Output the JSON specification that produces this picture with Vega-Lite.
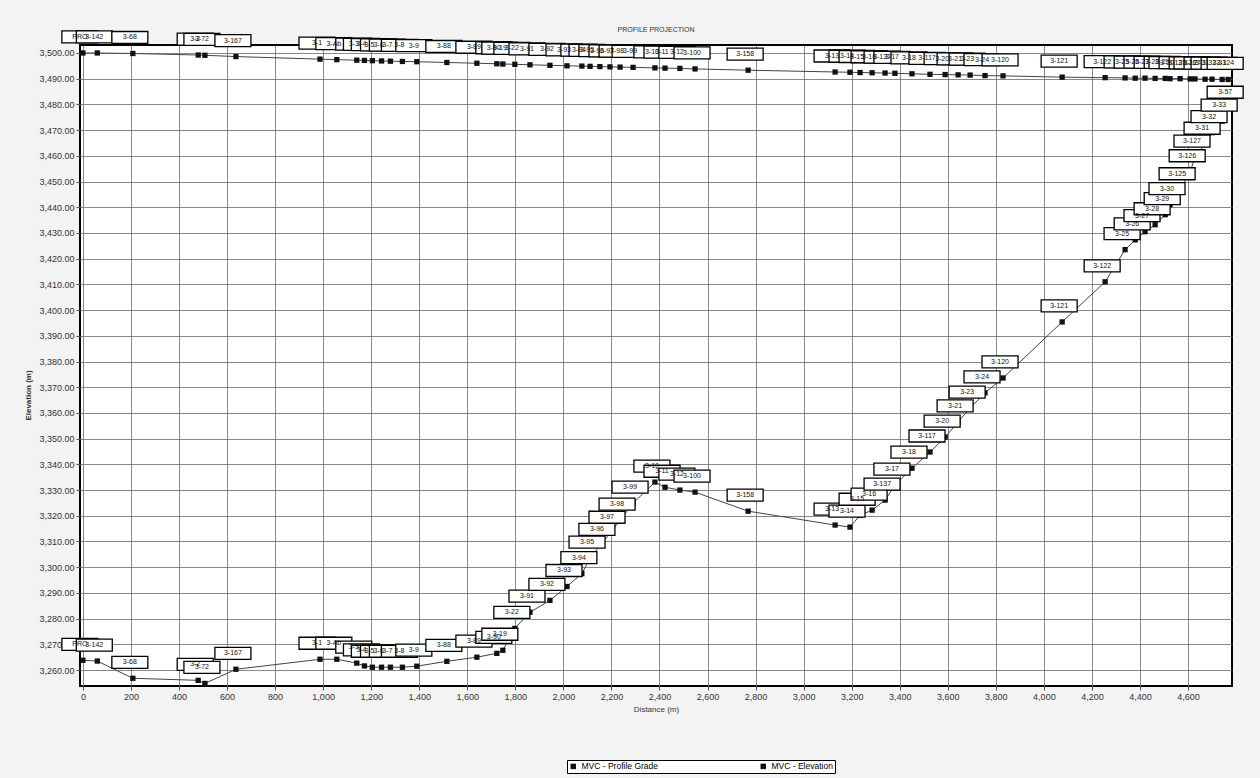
{
  "$schema": "https://vega.github.io/schema/vega-lite/v6.json",
  "autosize": {"type": "none"},
  "width": 1152,
  "height": 641,
  "padding": {"left": 80, "top": 45, "right": 28, "bottom": 92},
  "background": "#f3f3f3",
  "title": {"text": "PROFILE PROJECTION", "fontSize": 7, "font": "Liberation Sans", "color": "#333", "fontWeight": "normal", "offset": 10, "anchor": "middle", "baseline": "bottom", "dy": 22},
  "config": {
    "view": {"fill": "#ffffff", "stroke": "#000", "strokeWidth": 2},
    "axis": {"labelFont": "Liberation Sans", "titleFont": "Liberation Sans", "labelColor": "#333", "titleColor": "#333", "gridColor": "#6a6a6a", "gridWidth": 0.8, "domain": false, "tickColor": "#555", "tickSize": 4}
  },
  "datasets": {
    "pts": [
      {"series": "MVC - Profile Grade", "d": 0, "e": 3263.8, "label": "PRO"},
      {"series": "MVC - Profile Grade", "d": 60, "e": 3263.5, "label": "3-142"},
      {"series": "MVC - Profile Grade", "d": 208, "e": 3256.8, "label": "3-68"},
      {"series": "MVC - Profile Grade", "d": 480, "e": 3256.0, "label": "3-2"},
      {"series": "MVC - Profile Grade", "d": 508, "e": 3254.8, "label": "3-72"},
      {"series": "MVC - Profile Grade", "d": 637, "e": 3260.3, "label": "3-167"},
      {"series": "MVC - Profile Grade", "d": 987, "e": 3264.2, "label": "3-1"},
      {"series": "MVC - Profile Grade", "d": 1057, "e": 3264.2, "label": "3-Ab"},
      {"series": "MVC - Profile Grade", "d": 1140, "e": 3262.7, "label": "3-3"},
      {"series": "MVC - Profile Grade", "d": 1172, "e": 3261.6, "label": "3-4"},
      {"series": "MVC - Profile Grade", "d": 1205, "e": 3261.1, "label": "3-5"},
      {"series": "MVC - Profile Grade", "d": 1243, "e": 3261.1, "label": "3-6"},
      {"series": "MVC - Profile Grade", "d": 1280, "e": 3261.1, "label": "3-7"},
      {"series": "MVC - Profile Grade", "d": 1330, "e": 3261.1, "label": "3-8"},
      {"series": "MVC - Profile Grade", "d": 1390, "e": 3261.5, "label": "3-9"},
      {"series": "MVC - Profile Grade", "d": 1515, "e": 3263.4, "label": "3-88"},
      {"series": "MVC - Profile Grade", "d": 1640, "e": 3265.0, "label": "3-89"},
      {"series": "MVC - Profile Grade", "d": 1723, "e": 3266.5, "label": "3-90"},
      {"series": "MVC - Profile Grade", "d": 1748, "e": 3267.7, "label": "3-19"},
      {"series": "MVC - Profile Grade", "d": 1798, "e": 3276.2, "label": "3-22"},
      {"series": "MVC - Profile Grade", "d": 1861, "e": 3282.5, "label": "3-91"},
      {"series": "MVC - Profile Grade", "d": 1944, "e": 3287.1, "label": "3-92"},
      {"series": "MVC - Profile Grade", "d": 2015, "e": 3292.5, "label": "3-93"},
      {"series": "MVC - Profile Grade", "d": 2077, "e": 3297.5, "label": "3-94"},
      {"series": "MVC - Profile Grade", "d": 2111, "e": 3303.5, "label": "3-95"},
      {"series": "MVC - Profile Grade", "d": 2152, "e": 3308.5, "label": "3-96"},
      {"series": "MVC - Profile Grade", "d": 2194, "e": 3313.2, "label": "3-97"},
      {"series": "MVC - Profile Grade", "d": 2236, "e": 3318.3, "label": "3-98"},
      {"series": "MVC - Profile Grade", "d": 2290, "e": 3324.9, "label": "3-99"},
      {"series": "MVC - Profile Grade", "d": 2381, "e": 3333.1, "label": "3-10"},
      {"series": "MVC - Profile Grade", "d": 2423, "e": 3331.1, "label": "3-11"},
      {"series": "MVC - Profile Grade", "d": 2485, "e": 3330.0, "label": "3-12"},
      {"series": "MVC - Profile Grade", "d": 2548, "e": 3329.2, "label": "3-100"},
      {"series": "MVC - Profile Grade", "d": 2769, "e": 3321.8, "label": "3-158"},
      {"series": "MVC - Profile Grade", "d": 3131, "e": 3316.4, "label": "3-13"},
      {"series": "MVC - Profile Grade", "d": 3193, "e": 3315.6, "label": "3-14"},
      {"series": "MVC - Profile Grade", "d": 3235, "e": 3320.2, "label": "3-15"},
      {"series": "MVC - Profile Grade", "d": 3285, "e": 3322.2, "label": "3-16"},
      {"series": "MVC - Profile Grade", "d": 3339, "e": 3326.1, "label": "3-137"},
      {"series": "MVC - Profile Grade", "d": 3380, "e": 3331.9, "label": "3-17"},
      {"series": "MVC - Profile Grade", "d": 3451, "e": 3338.5, "label": "3-18"},
      {"series": "MVC - Profile Grade", "d": 3526, "e": 3344.8, "label": "3-117"},
      {"series": "MVC - Profile Grade", "d": 3589, "e": 3350.6, "label": "3-20"},
      {"series": "MVC - Profile Grade", "d": 3643, "e": 3356.5, "label": "3-21"},
      {"series": "MVC - Profile Grade", "d": 3693, "e": 3361.9, "label": "3-23"},
      {"series": "MVC - Profile Grade", "d": 3755, "e": 3367.8, "label": "3-24"},
      {"series": "MVC - Profile Grade", "d": 3830, "e": 3373.6, "label": "3-120"},
      {"series": "MVC - Profile Grade", "d": 4076, "e": 3395.4, "label": "3-121"},
      {"series": "MVC - Profile Grade", "d": 4255, "e": 3411.0, "label": "3-122"},
      {"series": "MVC - Profile Grade", "d": 4338, "e": 3423.5, "label": "3-25"},
      {"series": "MVC - Profile Grade", "d": 4380, "e": 3427.3, "label": "3-26"},
      {"series": "MVC - Profile Grade", "d": 4421, "e": 3430.5, "label": "3-27"},
      {"series": "MVC - Profile Grade", "d": 4463, "e": 3433.2, "label": "3-28"},
      {"series": "MVC - Profile Grade", "d": 4505, "e": 3437.1, "label": "3-29"},
      {"series": "MVC - Profile Grade", "d": 4525, "e": 3441.0, "label": "3-30"},
      {"series": "MVC - Profile Grade", "d": 4567, "e": 3446.8, "label": "3-125"},
      {"series": "MVC - Profile Grade", "d": 4609, "e": 3453.8, "label": "3-126"},
      {"series": "MVC - Profile Grade", "d": 4629, "e": 3459.5, "label": "3-127"},
      {"series": "MVC - Profile Grade", "d": 4671, "e": 3464.5, "label": "3-31"},
      {"series": "MVC - Profile Grade", "d": 4700, "e": 3469.0, "label": "3-32"},
      {"series": "MVC - Profile Grade", "d": 4742, "e": 3473.5, "label": "3-33"},
      {"series": "MVC - Profile Grade", "d": 4767, "e": 3478.5, "label": "3-57"},
      {"series": "MVC - Elevation", "d": 0, "e": 3500.0, "label": "PRO"},
      {"series": "MVC - Elevation", "d": 60, "e": 3500.0, "label": "3-142"},
      {"series": "MVC - Elevation", "d": 208, "e": 3499.8, "label": "3-68"},
      {"series": "MVC - Elevation", "d": 480, "e": 3499.2, "label": "3-2"},
      {"series": "MVC - Elevation", "d": 508, "e": 3499.1, "label": "3-72"},
      {"series": "MVC - Elevation", "d": 637, "e": 3498.6, "label": "3-167"},
      {"series": "MVC - Elevation", "d": 987, "e": 3497.6, "label": "3-1"},
      {"series": "MVC - Elevation", "d": 1057, "e": 3497.4, "label": "3-Ab"},
      {"series": "MVC - Elevation", "d": 1140, "e": 3497.2, "label": "3-3"},
      {"series": "MVC - Elevation", "d": 1172, "e": 3497.1, "label": "3-4"},
      {"series": "MVC - Elevation", "d": 1205, "e": 3497.0, "label": "3-5"},
      {"series": "MVC - Elevation", "d": 1243, "e": 3496.9, "label": "3-6"},
      {"series": "MVC - Elevation", "d": 1280, "e": 3496.8, "label": "3-7"},
      {"series": "MVC - Elevation", "d": 1330, "e": 3496.7, "label": "3-8"},
      {"series": "MVC - Elevation", "d": 1390, "e": 3496.6, "label": "3-9"},
      {"series": "MVC - Elevation", "d": 1515, "e": 3496.3, "label": "3-88"},
      {"series": "MVC - Elevation", "d": 1640, "e": 3496.0, "label": "3-89"},
      {"series": "MVC - Elevation", "d": 1723, "e": 3495.8, "label": "3-90"},
      {"series": "MVC - Elevation", "d": 1748, "e": 3495.7, "label": "3-19"},
      {"series": "MVC - Elevation", "d": 1798, "e": 3495.6, "label": "3-22"},
      {"series": "MVC - Elevation", "d": 1861, "e": 3495.4, "label": "3-91"},
      {"series": "MVC - Elevation", "d": 1944, "e": 3495.2, "label": "3-92"},
      {"series": "MVC - Elevation", "d": 2015, "e": 3495.0, "label": "3-93"},
      {"series": "MVC - Elevation", "d": 2077, "e": 3494.9, "label": "3-94"},
      {"series": "MVC - Elevation", "d": 2111, "e": 3494.8, "label": "3-95"},
      {"series": "MVC - Elevation", "d": 2152, "e": 3494.7, "label": "3-96"},
      {"series": "MVC - Elevation", "d": 2194, "e": 3494.6, "label": "3-97"},
      {"series": "MVC - Elevation", "d": 2236, "e": 3494.5, "label": "3-98"},
      {"series": "MVC - Elevation", "d": 2290, "e": 3494.4, "label": "3-99"},
      {"series": "MVC - Elevation", "d": 2381, "e": 3494.2, "label": "3-10"},
      {"series": "MVC - Elevation", "d": 2423, "e": 3494.1, "label": "3-11"},
      {"series": "MVC - Elevation", "d": 2485, "e": 3494.0, "label": "3-12"},
      {"series": "MVC - Elevation", "d": 2548, "e": 3493.8, "label": "3-100"},
      {"series": "MVC - Elevation", "d": 2769, "e": 3493.3, "label": "3-158"},
      {"series": "MVC - Elevation", "d": 3131, "e": 3492.6, "label": "3-13"},
      {"series": "MVC - Elevation", "d": 3193, "e": 3492.5, "label": "3-14"},
      {"series": "MVC - Elevation", "d": 3235, "e": 3492.4, "label": "3-15"},
      {"series": "MVC - Elevation", "d": 3285, "e": 3492.3, "label": "3-16"},
      {"series": "MVC - Elevation", "d": 3339, "e": 3492.2, "label": "3-137"},
      {"series": "MVC - Elevation", "d": 3380, "e": 3492.1, "label": "3-17"},
      {"series": "MVC - Elevation", "d": 3451, "e": 3491.9, "label": "3-18"},
      {"series": "MVC - Elevation", "d": 3526, "e": 3491.7, "label": "3-117"},
      {"series": "MVC - Elevation", "d": 3589, "e": 3491.6, "label": "3-20"},
      {"series": "MVC - Elevation", "d": 3643, "e": 3491.5, "label": "3-21"},
      {"series": "MVC - Elevation", "d": 3693, "e": 3491.4, "label": "3-23"},
      {"series": "MVC - Elevation", "d": 3755, "e": 3491.2, "label": "3-24"},
      {"series": "MVC - Elevation", "d": 3830, "e": 3491.1, "label": "3-120"},
      {"series": "MVC - Elevation", "d": 4076, "e": 3490.6, "label": "3-121"},
      {"series": "MVC - Elevation", "d": 4255, "e": 3490.4, "label": "3-122"},
      {"series": "MVC - Elevation", "d": 4338, "e": 3490.3, "label": "3-25"},
      {"series": "MVC - Elevation", "d": 4380, "e": 3490.2, "label": "3-26"},
      {"series": "MVC - Elevation", "d": 4421, "e": 3490.2, "label": "3-27"},
      {"series": "MVC - Elevation", "d": 4463, "e": 3490.1, "label": "3-28"},
      {"series": "MVC - Elevation", "d": 4505, "e": 3490.1, "label": "3-29"},
      {"series": "MVC - Elevation", "d": 4525, "e": 3490.0, "label": "3-30"},
      {"series": "MVC - Elevation", "d": 4567, "e": 3490.0, "label": "3-125"},
      {"series": "MVC - Elevation", "d": 4609, "e": 3489.9, "label": "3-126"},
      {"series": "MVC - Elevation", "d": 4629, "e": 3489.9, "label": "3-127"},
      {"series": "MVC - Elevation", "d": 4671, "e": 3489.8, "label": "3-31"},
      {"series": "MVC - Elevation", "d": 4700, "e": 3489.8, "label": "3-32"},
      {"series": "MVC - Elevation", "d": 4742, "e": 3489.7, "label": "3-33"},
      {"series": "MVC - Elevation", "d": 4767, "e": 3489.7, "label": "3-124"}
    ]
  },
  "data": {"name": "pts"},
  "encoding": {
    "x": {"field": "d", "type": "quantitative", "scale": {"domain": [-12, 4783], "nice": false, "zero": false},
      "axis": {"values": [0,200,400,600,800,1000,1200,1400,1600,1800,2000,2200,2400,2600,2800,3000,3200,3400,3600,3800,4000,4200,4400,4600], "format": ",.0f", "labelFontSize": 9, "title": "Distance (m)", "titleFontSize": 8, "titleFontWeight": "normal", "titlePadding": 4}},
    "y": {"field": "e", "type": "quantitative", "scale": {"domain": [3253.8, 3503.1], "nice": false, "zero": false},
      "axis": {"values": [3260,3270,3280,3290,3300,3310,3320,3330,3340,3350,3360,3370,3380,3390,3400,3410,3420,3430,3440,3450,3460,3470,3480,3490,3500], "format": ",.2f", "labelFontSize": 9, "title": "Elevation (m)", "titleFontSize": 8, "titlePadding": 6, "titleY": 350}}
  },
  "layer": [
    {"mark": {"type": "line", "stroke": "#444", "strokeWidth": 1}, "encoding": {"detail": {"field": "series"}}},
    {"mark": {"type": "point", "shape": "square", "filled": true, "size": 28, "opacity": 1},
      "encoding": {"color": {"field": "series", "type": "nominal", "scale": {"domain": ["MVC - Profile Grade", "MVC - Elevation"], "range": ["#111", "#111"]},
        "legend": {"orient": "none", "legendX": 487, "legendY": 715, "direction": "horizontal", "title": null, "fillColor": "#fff", "strokeColor": "#000", "padding": 2, "labelFontSize": 8.5, "labelFont": "Liberation Sans", "symbolSize": 30, "symbolType": "square", "columnPadding": 100}}}},
    {"mark": {"type": "point", "shape": "M-1.8,-0.6L1.8,-0.6L1.8,0.6L-1.8,0.6Z", "filled": true, "fill": "#fff", "stroke": "#000", "strokeWidth": 1.3, "size": 400, "opacity": 1, "yOffset": -16, "xOffset": -3}},
    {"mark": {"type": "text", "fontSize": 7, "font": "Liberation Sans", "color": "#111", "yOffset": -16, "xOffset": -3, "baseline": "middle"}, "encoding": {"text": {"field": "label"}}}
  ]
}
